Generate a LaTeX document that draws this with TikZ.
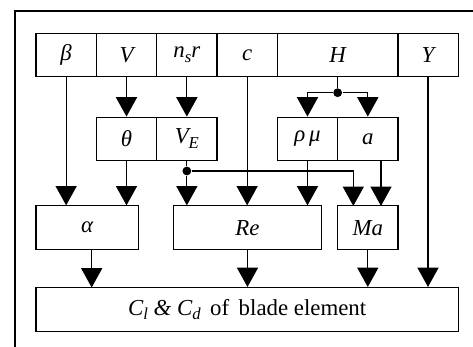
\documentclass[tikz,border=0pt]{standalone}
\usepackage{fontspec}
\setmainfont{Liberation Serif}
\usetikzlibrary{arrows.meta}
\newcommand{\lowsub}[1]{\raisebox{-0.45ex}{\fontsize{9.5}{11}\selectfont #1}}

\begin{document}
\begin{tikzpicture}[>={Triangle[width=12pt,length=11pt]}, line width=0.6pt, font=\fontsize{13}{15}\selectfont]
\tikzset{cell/.style={draw, inner sep=0pt, minimum width=1.207cm, minimum height=0.87cm},
  junction/.style={circle, fill, inner sep=0pt, minimum size=5pt}}
\useasboundingbox (0,0) rectangle (9.46,-6.94);
\draw[line width=1.2pt] (0.30,-7.0) -- (0.30,-0.22) -- (9.5,-0.22);

% inputs
\node[cell] (beta) at (1.323,-1.10) {\itshape β};
\node[cell] (vel) at (2.530,-1.10) {\itshape V};
\node[cell] (nsr) at (3.737,-1.10) {\itshape n\lowsub{s}r};
\node[cell] (chord) at (4.943,-1.10) {\itshape c};
\node[cell, minimum width=2.413cm] (height) at (6.753,-1.10) {\itshape H};
\node[cell] (yaw) at (8.560,-1.10) {\itshape Y};

% intermediate values
\node[cell] (theta) at (2.530,-2.777) {\itshape θ};
\node[cell] (ve) at (3.737,-2.777) {\itshape V\lowsub{E}};
\node[cell] (rhomu) at (6.150,-2.777) {\itshape ρ\,μ};
\node[cell] (asnd) at (7.356,-2.777) {\itshape a};

\node[cell, minimum width=2.046cm] (alpha) at (1.743,-4.553) {\itshape α};
\node[cell, minimum width=2.968cm] (re) at (4.950,-4.553) {\itshape Re};
\node[cell] (ma) at (7.356,-4.553) {\itshape Ma};

\node[cell, minimum width=8.446cm, minimum height=0.88cm] (coef) at (4.943,-6.19)
  {{\itshape C\lowsub{l} \& C\lowsub{d}}\, of\, blade element};

\node[junction] (hdot) at (6.753,-1.854) {};
\node[junction] (vdot) at (3.737,-3.42) {};
\coordinate (mavin) at (7.066,-4.118);
\coordinate (ain) at (7.620,-4.118);
\coordinate (aout) at (1.834,-5.750);

\draw[->] (vel) -- (theta);
\draw[->] (nsr) -- (ve);
\draw (height) -- (hdot);
\draw[->] (hdot) -| (rhomu);
\draw[->] (hdot) -| (asnd);

\draw[->] (beta) -- (beta |- alpha.north);
\draw[->] (theta) -- (theta |- alpha.north);
\draw (ve) -- (vdot);
\draw[->] (vdot) -- (vdot |- re.north);
\draw[->] (vdot) -| (mavin);
\draw[->] (chord) -- (chord |- re.north);
\draw[->] (rhomu) -- (rhomu |- re.north);
\draw[->] (ain |- asnd.south) -- (ain);

\draw[->] (aout |- alpha.south) -- (aout);
\draw[->] (re) -- (re |- coef.north);
\draw[->] (ma) -- (ma |- coef.north);
\draw[->] (yaw) -- (yaw |- coef.north);
\end{tikzpicture}
\end{document}
